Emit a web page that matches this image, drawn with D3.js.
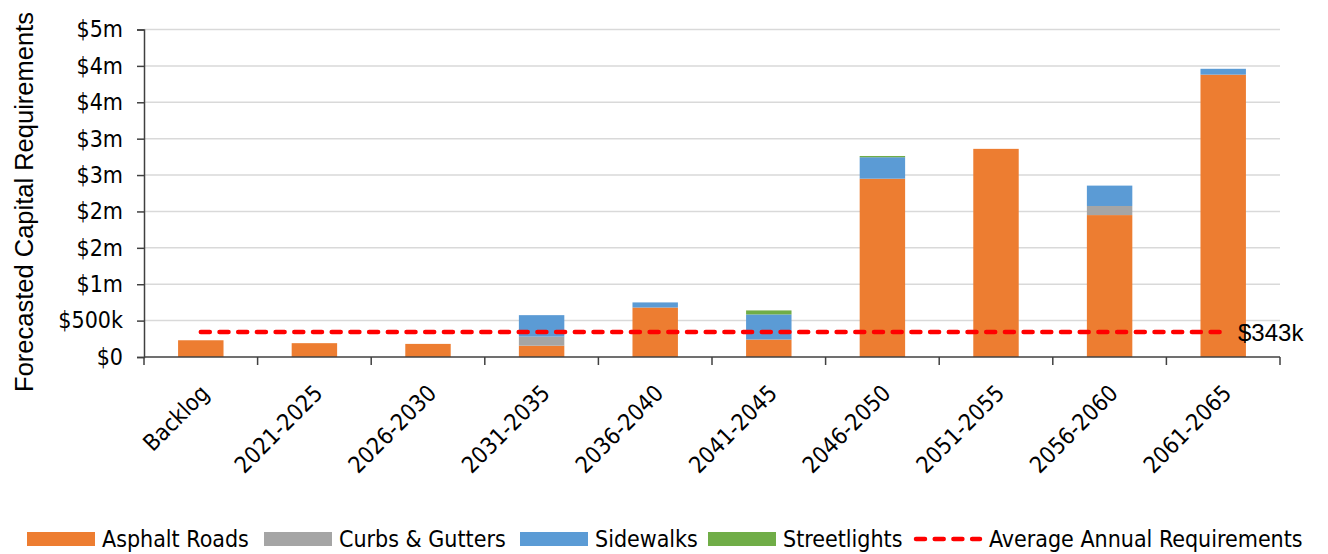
<!DOCTYPE html>
<html>
<head>
<meta charset="utf-8">
<script src="https://cdn.jsdelivr.net/npm/d3@7"></script>
<style>
  body { margin: 0; background: #fff; }
  svg text { fill: #000; }
</style>
</head>
<body>
<div class="chart"></div>
<script>
// categories and series (millions of dollars)
var periods = ["Backlog", "2021-2025", "2026-2030", "2031-2035", "2036-2040", "2041-2045", "2046-2050", "2051-2055", "2056-2060", "2061-2065"];
var asphaltRoads = [0.23, 0.19, 0.18, 0.155, 0.68, 0.24, 2.45, 2.86, 1.95, 3.88];
var curbsGutters = [0, 0, 0, 0.125, 0, 0, 0, 0, 0.125, 0];
var sidewalks    = [0, 0, 0, 0.295, 0.07, 0.345, 0.295, 0, 0.28, 0.08];
var streetlights = [0, 0, 0, 0, 0, 0.055, 0.017, 0, 0, 0];
var averageAnnual = 0.343;
var yTicks = [0, 0.5, 1, 1.5, 2, 2.5, 3, 3.5, 4, 4.5];
var yTickLabels = ["$0", "$500k", "$1m", "$2m", "$2m", "$3m", "$3m", "$4m", "$4m", "$5m"];

var seriesNames = ["Asphalt Roads", "Curbs & Gutters", "Sidewalks", "Streetlights"];
var colores = ["#ED7D31", "#A5A5A5", "#5B9BD5", "#70AD47"];

function dibujar() {
    var width = 1328, height = 554;
    var mLeft = 144, mRight = 1280, mTop = 29.5, mBottom = 357;
    var fuente = "'DejaVu Sans Condensed', 'DejaVu Sans', sans-serif";

    var svg = d3.select(".chart").append("svg")
        .attr("width", width)
        .attr("height", height);

    // tabla para el stack
    var tabla = periods.map(function(p, i) {
        return { period: p, "Asphalt Roads": asphaltRoads[i], "Curbs & Gutters": curbsGutters[i],
                 "Sidewalks": sidewalks[i], "Streetlights": streetlights[i] };
    });
    var stacked = d3.stack().keys(seriesNames)(tabla);

    var x = d3.scaleBand().domain(periods).range([mLeft, mRight]).padding(0);
    var y = d3.scaleLinear().domain([0, 4.5]).range([mBottom, mTop]);
    var barW = x.bandwidth() * 0.4;

    // gridlines
    svg.append("g").selectAll("line")
        .data(yTicks.slice(1))
        .enter().append("line")
        .attr("x1", mLeft).attr("x2", mRight)
        .attr("y1", function(d) { return y(d); })
        .attr("y2", function(d) { return y(d); })
        .attr("stroke", "#d9d9d9")
        .attr("stroke-width", 1.5);

    // barras apiladas
    svg.append("g").selectAll("g")
        .data(stacked)
        .enter().append("g")
        .attr("fill", function(d, i) { return colores[i]; })
        .selectAll("rect")
        .data(function(d) { return d; })
        .enter().append("rect")
        .attr("x", function(d) { return x(d.data.period) + (x.bandwidth() - barW) / 2; })
        .attr("y", function(d) { return y(d[1]); })
        .attr("width", barW)
        .attr("height", function(d) { return Math.max(0, y(d[0]) - y(d[1])); });

    // eje Y
    var yAxis = d3.axisLeft(y).tickValues(yTicks)
        .tickFormat(function(d, i) { return yTickLabels[i]; })
        .tickSize(7).tickPadding(14);
    var gy = svg.append("g").attr("transform", "translate(" + mLeft + ",0)").call(yAxis);
    gy.select(".domain").attr("stroke", "#404040").attr("stroke-width", 1.5);
    gy.selectAll(".tick line").attr("stroke", "#404040").attr("stroke-width", 1.5);
    gy.selectAll(".tick text").style("font-family", fuente).style("font-size", "23px").attr("fill", "#000");

    // eje X
    svg.append("line")
        .attr("x1", mLeft).attr("x2", mRight)
        .attr("y1", mBottom).attr("y2", mBottom)
        .attr("stroke", "#404040").attr("stroke-width", 1.5);
    var bordes = periods.map(function(p) { return x(p); }).concat([mRight]);
    svg.append("g").selectAll("line")
        .data(bordes)
        .enter().append("line")
        .attr("x1", function(d) { return d; }).attr("x2", function(d) { return d; })
        .attr("y1", mBottom).attr("y2", mBottom + 8)
        .attr("stroke", "#404040").attr("stroke-width", 1.5);

    svg.append("g").selectAll("text")
        .data(periods)
        .enter().append("text")
        .attr("transform", function(d) {
            return "translate(" + (x(d) + x.bandwidth() / 2 + 4) + "," + 389 + ") rotate(-45)";
        })
        .attr("text-anchor", "end")
        .attr("dy", "0.35em")
        .style("font-family", fuente)
        .style("font-size", "23px")
        .text(function(d) { return d; });

    // titulo eje Y
    svg.append("text")
        .attr("transform", "translate(33," + 202 + ") rotate(-90)")
        .attr("text-anchor", "middle")
        .style("font-family", "'Liberation Sans', Arial, sans-serif")
        .style("font-size", "25.5px")
        .text("Forecasted Capital Requirements");

    // linea promedio
    var x0 = x(periods[0]) + x.bandwidth() / 2;
    var x1 = x(periods[periods.length - 1]) + x.bandwidth() / 2;
    svg.append("line")
        .attr("x1", x0).attr("x2", x1)
        .attr("y1", y(averageAnnual)).attr("y2", y(averageAnnual))
        .attr("stroke", "#FF0000")
        .attr("stroke-width", 4.5)
        .attr("stroke-linecap", "round")
        .attr("stroke-dasharray", "9,9.7");

    svg.append("text")
        .attr("x", 1238)
        .attr("y", y(averageAnnual) + 9)
        .style("font-family", "'Liberation Sans', Arial, sans-serif")
        .style("font-size", "24px")
        .text("$" + Math.round(averageAnnual * 1000) + "k");

    // leyenda
    var leyenda = [
        { name: "Asphalt Roads", x: 27, tipo: "rect", color: colores[0] },
        { name: "Curbs & Gutters", x: 264, tipo: "rect", color: colores[1] },
        { name: "Sidewalks", x: 520, tipo: "rect", color: colores[2] },
        { name: "Streetlights", x: 708, tipo: "rect", color: colores[3] },
        { name: "Average Annual Requirements", x: 914, tipo: "line", color: "#FF0000" }
    ];
    var items = svg.append("g").selectAll("g")
        .data(leyenda)
        .enter().append("g")
        .attr("transform", function(d) { return "translate(" + d.x + ",539)"; });
    items.filter(function(d) { return d.tipo === "rect"; })
        .append("rect")
        .attr("x", 0).attr("y", -7)
        .attr("width", 68).attr("height", 14)
        .attr("fill", function(d) { return d.color; });
    items.filter(function(d) { return d.tipo === "line"; })
        .append("line")
        .attr("x1", 2).attr("x2", 66)
        .attr("y1", 0).attr("y2", 0)
        .attr("stroke", "#FF0000")
        .attr("stroke-width", 4.5)
        .attr("stroke-linecap", "round")
        .attr("stroke-dasharray", "9,9.7");
    items.append("text")
        .attr("x", 75)
        .attr("dy", "0.35em")
        .style("font-family", fuente)
        .style("font-size", "23px")
        .text(function(d) { return d.name; });
}

dibujar();
</script>
</body>
</html>
